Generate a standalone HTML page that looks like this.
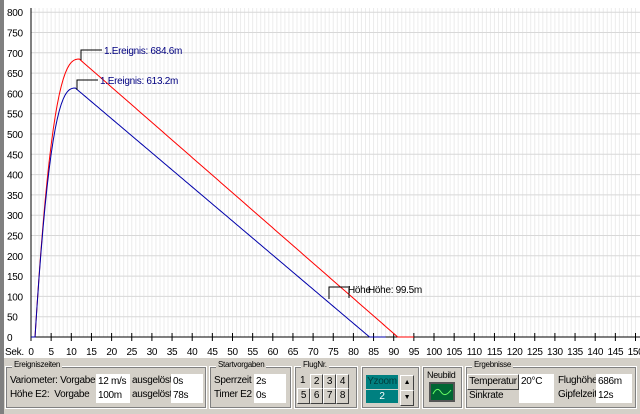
<!DOCTYPE html><html><head><meta charset="utf-8"><style>
body{margin:0;width:640px;height:414px;overflow:hidden;background:#d4d0c8;font-family:"Liberation Sans",sans-serif;font-size:10px;letter-spacing:-0.3px;position:relative}
.a{position:absolute;white-space:nowrap}
.grp{position:absolute;border:1px solid #fff;outline:1px solid #808080;outline-offset:-2px}
.gt{position:absolute;top:-7px;left:6px;background:#d4d0c8;padding:0 2px;font-size:8px}
.f{position:absolute;background:#fff;height:15px;line-height:15px;padding-left:2px;overflow:hidden}
.b{position:absolute;background:#d4d0c8;border:1px solid;border-color:#fff #404040 #404040 #fff;text-align:center;height:14px;line-height:14px;overflow:hidden}
</style></head><body>
<div class="a" style="left:0;top:0;width:640px;height:358px;background:#fff"></div>
<div class="a" style="left:0;top:0;width:4px;height:414px;background:#808080"></div>
<svg class="a" style="left:0;top:0" width="640" height="360" id="s"></svg>
<div class="grp" style="left:5px;top:366px;width:200px;height:41px"><span class="gt">Ereigniszeiten</span></div>
<div class="a" style="left:10px;top:375px">Variometer: Vorgabe</div>
<div class="a" style="left:10px;top:389px">Höhe E2:&nbsp; Vorgabe</div>
<div class="f" style="left:96px;top:374px;width:32px">12 m/s</div>
<div class="f" style="left:96px;top:388px;width:32px">100m</div>
<div class="a" style="left:132px;top:375px">ausgelöst</div>
<div class="a" style="left:132px;top:389px">ausgelöst</div>
<div class="f" style="left:171px;top:374px;width:30px">0s</div>
<div class="f" style="left:171px;top:388px;width:30px">78s</div>
<div class="grp" style="left:209px;top:366px;width:81px;height:41px"><span class="gt">Startvorgaben</span></div>
<div class="a" style="left:214px;top:375px">Sperrzeit</div>
<div class="a" style="left:214px;top:389px">Timer E2</div>
<div class="f" style="left:254px;top:374px;width:30px">2s</div>
<div class="f" style="left:254px;top:388px;width:30px">0s</div>
<div class="grp" style="left:294px;top:366px;width:62px;height:41px"><span class="gt">FlugNr.</span></div>
<div class="a" style="left:300px;top:375px">1</div>
<div class="b" style="left:310px;top:374px;width:11px">2</div><div class="b" style="left:323px;top:374px;width:11px">3</div><div class="b" style="left:336px;top:374px;width:11px">4</div>
<div class="b" style="left:297px;top:388px;width:11px">5</div><div class="b" style="left:310px;top:388px;width:11px">6</div><div class="b" style="left:323px;top:388px;width:11px">7</div><div class="b" style="left:336px;top:388px;width:11px">8</div>
<div class="grp" style="left:361px;top:366px;width:57px;height:41px"></div>
<div class="a" style="left:366px;top:375px;width:32px;height:14px;background:#008080;color:#003c3c;text-align:center;line-height:14px">Yzoom</div>
<div class="a" style="left:366px;top:390px;width:32px;height:13px;background:#008080;color:#fff;text-align:center;line-height:13px">2</div>
<div class="b" style="left:400px;top:375px;width:12px;font-size:7px">▲</div>
<div class="b" style="left:400px;top:390px;width:12px;font-size:7px">▼</div>
<div class="grp" style="left:422px;top:366px;width:39px;height:41px"></div>
<div class="a" style="left:427px;top:370px;font-size:9px">Neubild</div>
<div class="a" style="left:429px;top:382px;width:22px;height:16px;background:#063;border:2px solid #555"><svg width="22" height="16"><path d="M2 10 Q6 2 10 8 T20 6" stroke="#6f6" fill="none"/></svg></div>
<div class="grp" style="left:465px;top:366px;width:170px;height:41px"><span class="gt">Ergebnisse</span></div>
<div class="b" style="left:467px;top:374px;width:50px">Temperatur</div>
<div class="f" style="left:519px;top:374px;width:33px">20°C</div>
<div class="a" style="left:469px;top:390px">Sinkrate</div>
<div class="f" style="left:519px;top:388px;width:33px"></div>
<div class="a" style="left:558px;top:375px">Flughöhe</div>
<div class="a" style="left:558px;top:389px">Gipfelzeit</div>
<div class="f" style="left:596px;top:374px;width:34px">686m</div>
<div class="f" style="left:596px;top:388px;width:34px">12s</div>
<script>
var s='',X=t=>31+t*4.03,Y=h=>337-h*0.406,F='font-family="Liberation Sans" font-size="10" letter-spacing="-0.3"';
for(var t=1;t<=150;t++)s+='<line x1="'+X(t)+'" y1="8" x2="'+X(t)+'" y2="337" stroke="#ececec"/>';
for(var h=50;h<=800;h+=50)s+='<line x1="31" y1="'+Y(h)+'" x2="640" y2="'+Y(h)+'" stroke="#d8d8d8"/>';
for(var h=0;h<=800;h+=50)s+='<text x="7" y="'+(Y(h)+4)+'" '+F+'>'+h+'</text>';
s+='<line x1="31" y1="337" x2="640" y2="337" stroke="#000"/><line x1="31" y1="8" x2="31" y2="337" stroke="#000"/>';
for(var t=0;t<=155;t+=5){s+='<line x1="'+X(t)+'" y1="333" x2="'+X(t)+'" y2="341" stroke="#000"/>';s+='<text x="'+X(t)+'" y="355" text-anchor="middle" '+F+'>'+t+'</text>';}
s+='<text x="5" y="355" '+F+'>Sek.</text>';
function c(P,tp,te,tf,col){var p=[];for(var t=0;t<=tf;t+=0.5){var h;if(t<1)h=0;else if(t<=tp){var u=(t-1)/(tp-1);h=P*(1-Math.pow(1-u,2.6));}else if(t<te)h=P*(te-t)/(te-tp);else h=0;p.push(X(t)+','+Y(h));}
s+='<polyline points="'+p.join(' ')+'" fill="none" stroke="'+col+'"/>';}
c(684.6,12,91,95,'#f00');c(613.2,11,84,88,'#00a');
s+='<path d="M81 60V50H102M77 90V80H98M329 299V287H350M349 298V288" stroke="#000" fill="none"/>';
s+='<text x="104" y="54" '+F+' fill="#000080">1.Ereignis: 684.6m</text>';
s+='<text x="100" y="84" '+F+' fill="#000080">1.Ereignis: 613.2m</text>';
s+='<text x="348" y="293" '+F+'>Höhe</text><text x="368" y="293" '+F+'>Höhe: 99.5m</text>';
document.getElementById('s').innerHTML=s;
</script>
</body></html>
